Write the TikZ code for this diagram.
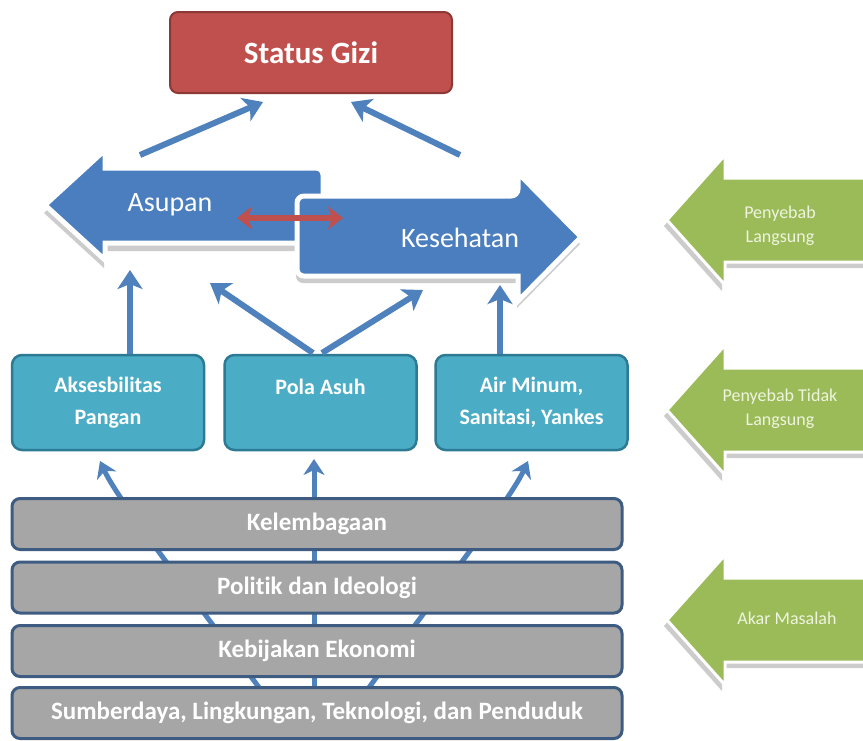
\documentclass[tikz,border=0pt]{standalone}
\usepackage{fontspec}
\setmainfont{Carlito}[Ligatures=NoCommon]
\usetikzlibrary{arrows.meta}
\definecolor{arrblue}{RGB}{79,129,189}
\definecolor{shapeblue}{RGB}{74,126,190}
\definecolor{tealfill}{RGB}{75,172,198}
\definecolor{tealdraw}{RGB}{45,122,148}
\definecolor{redfill}{RGB}{192,80,77}
\definecolor{reddraw}{RGB}{140,56,54}
\definecolor{barfill}{RGB}{166,166,166}
\definecolor{bardraw}{RGB}{62,92,130}
\definecolor{greenfill}{RGB}{155,187,89}
\definecolor{greentext}{RGB}{238,244,222}
\tikzset{
  sgbox/.style={draw=reddraw, line width=2pt, fill=redfill, rounded corners=8pt,
    minimum width=282pt, minimum height=81pt, inner sep=0pt, text=white,
    font=\fontsize{31}{36}\selectfont\bfseries},
  midbox/.style={draw=tealdraw, line width=2.5pt, fill=tealfill, rounded corners=10pt,
    minimum width=192pt, minimum height=95pt, inner sep=0pt, text=white, align=center,
    font=\fontsize{22}{32}\selectfont\bfseries},
  barbox/.style={draw=bardraw, line width=3pt, fill=barfill, rounded corners=8pt,
    minimum width=610pt, minimum height=51pt, inner sep=0pt, text=white,
    font=\fontsize{25}{28}\selectfont\bfseries},
  bigtext/.style={text=white, inner sep=0pt, font=\fontsize{28}{32}\selectfont},
  greentxt/.style={text=greentext, align=center, inner sep=0pt, font=\fontsize{18}{24}\selectfont},
  bluearrow/.style={draw=arrblue, line width=6pt, -{Stealth[length=19pt,width=25pt,inset=5pt]}},
  fanarrow/.style={draw=arrblue, line width=5pt, -{Stealth[length=16pt,width=21pt,inset=5pt]}},
  redarrow/.style={draw=redfill, line width=5.5pt,
    {Stealth[length=15pt,width=23pt,inset=4pt]}-{Stealth[length=15pt,width=23pt,inset=4pt]}},
  asushape/.style={insert path={(45,205) -- (105,150) -- (105,168) [rounded corners=7pt]
    -- (323,168) -- (323,243) [sharp corners] -- (105,243) -- (105,260) -- cycle}},
  kesshape/.style={insert path={(297,236) [rounded corners=7pt] -- (297,196) -- (518,196)
    [sharp corners] -- (518,173) -- (581,237) -- (518,301) -- (518,276) [rounded corners=7pt]
    -- (297,276) -- cycle}},
  greenshape/.style={insert path={(667,0) -- (725,-65) -- (725,-42) -- (875,-42)
    -- (875,42) -- (725,42) -- (725,65) -- cycle}},
}
\begin{document}
\begin{tikzpicture}[x=1pt,y=-1pt]
\fill[white] (0,0) rectangle (863,740);
\useasboundingbox (0,0) rectangle (863,740);

% fan connectors behind the bars
\coordinate (fanL) at (288,728);
\coordinate (fanC) at (314,728);
\coordinate (fanR) at (340,728);
\coordinate (aksIn) at (100,461);
\coordinate (polIn) at (314,459);
\coordinate (airIn) at (528,461);
\draw[fanarrow] (fanL) .. controls (230,645) and (120,505) .. (aksIn);
\draw[fanarrow] (fanC) -- (polIn);
\draw[fanarrow] (fanR) .. controls (398,645) and (508,505) .. (airIn);

% bars
\node[barbox] (kel) at (317,524) {Kelembagaan};
\node[barbox] (pol) at (317,587.5) {Politik dan Ideologi};
\node[barbox] (keb) at (317,651) {Kebijakan Ekonomi};
\node[barbox] (sdl) at (317,713) {Sumberdaya, Lingkungan, Teknologi, dan Penduduk};

% middle boxes
\node[midbox] (aks) at (108,402.5) {Aksesbilitas\\Pangan};
\node[midbox] (pla) at (320.5,402.5) {Pola Asuh\\\mbox{}};
\node[midbox] (air) at (531.5,402.5) {Air Minum,\\Sanitasi, Yankes};

% Asupan and Kesehatan block arrows
\path[fill=gray!40, shift={(-1,8)}, asushape];
\path[fill=shapeblue, draw=white, line width=5pt, asushape];
\node[bigtext] (asupan) at (170,205) {Asupan};
\path[fill=gray!40, shift={(-1,7)}, kesshape];
\path[fill=shapeblue, draw=white, line width=5pt, kesshape];
\node[bigtext] (kes) at (460,238) {Kesehatan};

\coordinate (redL) at (237,218);
\coordinate (redR) at (343,218);
\draw[redarrow] (redL) -- (redR);

% status gizi
\node[sgbox] (sg) at (311,52.5) {Status Gizi};

% upper connectors
\coordinate (asuOut) at (140,155);
\coordinate (sgInL) at (263,102);
\coordinate (kesOut) at (460,155);
\coordinate (sgInR) at (351,102);
\draw[bluearrow] (asuOut) -- (sgInL);
\draw[bluearrow] (kesOut) -- (sgInR);

\coordinate (aksOut) at (130,354);
\coordinate (asuInA) at (130,270);
\coordinate (plaOutL) at (313,353);
\coordinate (asuInP) at (210,283);
\coordinate (plaOutR) at (322,353);
\coordinate (kesInP) at (423,290);
\coordinate (airOut) at (500,354);
\coordinate (kesInA) at (500,285);
\draw[bluearrow] (aksOut) -- (asuInA);
\draw[bluearrow] (plaOutL) -- (asuInP);
\draw[bluearrow] (plaOutR) -- (kesInP);
\draw[bluearrow] (airOut) -- (kesInA);

% green side arrows
\begin{scope}[shift={(0,220)}]
  \path[fill=gray!40, shift={(-3,6)}, greenshape];
  \path[fill=greenfill, draw=white, line width=3pt, greenshape];
  \node[greentxt] (ps1) at (780,5.5) {Penyebab\\Langsung};
\end{scope}
\begin{scope}[shift={(0,410)}]
  \path[fill=gray!40, shift={(-3,6)}, greenshape];
  \path[fill=greenfill, draw=white, line width=3pt, greenshape];
  \node[greentxt] (ps2) at (780,-1.5) {Penyebab Tidak\\Langsung};
\end{scope}
\begin{scope}[shift={(0,620)}]
  \path[fill=gray!40, shift={(-3,6)}, greenshape];
  \path[fill=greenfill, draw=white, line width=3pt, greenshape];
  \node[greentxt] (ps3) at (787,-2) {Akar Masalah};
\end{scope}
\end{tikzpicture}
\end{document}
